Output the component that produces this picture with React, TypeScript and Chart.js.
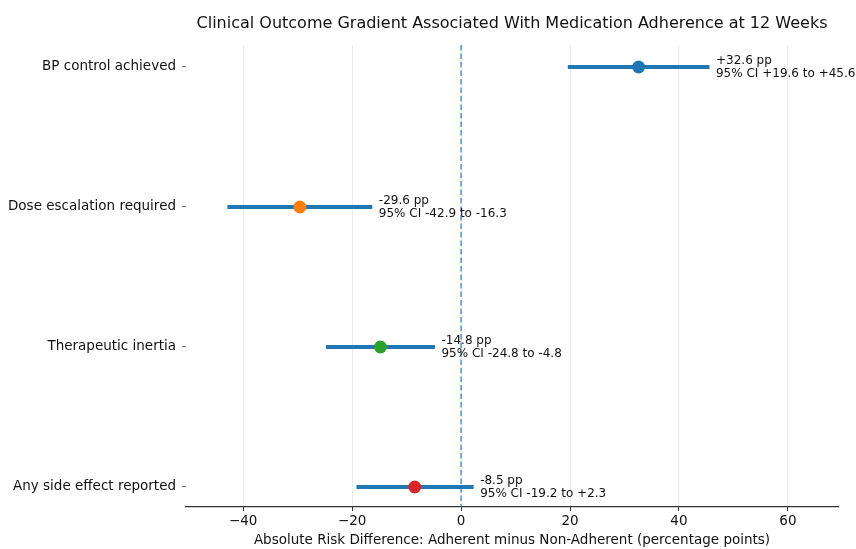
import React, { useEffect, useRef } from "react";
import { Chart, registerables } from "chart.js";

Chart.register(...registerables);

const categories = [
  "BP control achieved",
  "Dose escalation required",
  "Therapeutic inertia",
  "Any side effect reported",
];
const estimates = [32.6, -29.6, -14.8, -8.5];
const ciLow = [19.6, -42.9, -24.8, -19.2];
const ciHigh = [45.6, -16.3, -4.8, 2.3];
const pointColors = ["#1f77b4", "#ff7f0e", "#2ca02c", "#d62728"];
const xTicks = [-40, -20, 0, 20, 40, 60];
const titleText = "Clinical Outcome Gradient Associated With Medication Adherence at 12 Weeks";
const xTitle = "Absolute Risk Difference: Adherent minus Non-Adherent (percentage points)";

const FONT = "'DejaVu Sans', sans-serif";

function fmt(v: number): string {
  return (v > 0 ? "+" : "") + v.toFixed(1);
}

export default function App() {
  const ref = useRef<HTMLCanvasElement | null>(null);

  useEffect(() => {
    document.body.style.margin = "0";
    if (!ref.current) return;

    const ciDatasets = categories.map((_, i) => ({
      type: "line" as const,
      data: [
        { x: ciLow[i], y: i },
        { x: ciHigh[i], y: i },
      ],
      borderColor: "#1f77b4",
      borderWidth: 4,
      borderCapStyle: "butt" as const,
      pointRadius: 0,
      fill: false,
      order: 2,
    }));

    const pointDataset = {
      type: "scatter" as const,
      data: categories.map((_, i) => ({ x: estimates[i], y: i })),
      backgroundColor: pointColors,
      borderColor: pointColors,
      borderWidth: 0,
      pointRadius: 6.5,
      order: 1,
    };

    const overlay = {
      id: "overlay",
      beforeDatasetsDraw(chart: any) {
        const { ctx, chartArea, scales } = chart;
        const x0 = scales.x.getPixelForValue(0);
        ctx.save();
        ctx.strokeStyle = "rgba(31,119,180,0.72)";
        ctx.lineWidth = 1.6;
        ctx.setLineDash([5.5, 3]);
        ctx.beginPath();
        ctx.moveTo(x0, chartArea.top);
        ctx.lineTo(x0, chartArea.bottom);
        ctx.stroke();
        ctx.restore();
      },
      afterDatasetsDraw(chart: any) {
        const { ctx, scales } = chart;
        ctx.save();
        ctx.fillStyle = "#111";
        ctx.font = `12px ${FONT}`;
        ctx.textAlign = "left";
        ctx.textBaseline = "middle";
        categories.forEach((_, i) => {
          const x = scales.x.getPixelForValue(ciHigh[i] + 1.2);
          const y = scales.y.getPixelForValue(i);
          ctx.fillText(`${estimates[i] > 0 ? "+" : ""}${estimates[i].toFixed(1)} pp`, x, y - 6.5);
          ctx.fillText(`95% CI ${fmt(ciLow[i])} to ${fmt(ciHigh[i])}`, x, y + 6.5);
        });
        ctx.restore();
      },
      afterDraw(chart: any) {
        const { ctx, chartArea } = chart;
        ctx.save();
        ctx.fillStyle = "#111";
        ctx.font = `16px ${FONT}`;
        ctx.textAlign = "center";
        ctx.textBaseline = "middle";
        ctx.fillText(titleText, (chartArea.left + chartArea.right) / 2, 24);
        ctx.restore();
      },
    };

    const chart = new Chart(ref.current, {
      type: "scatter",
      data: { datasets: [...ciDatasets, pointDataset] as any },
      options: {
        animation: false,
        responsive: true,
        maintainAspectRatio: false,
        layout: { padding: { top: 45, right: 18, left: 0, bottom: 0 } },
        plugins: {
          legend: { display: false },
          tooltip: { enabled: false },
          title: { display: false },
        },
        scales: {
          x: {
            type: "linear",
            min: -50.5,
            max: 69.2,
            afterBuildTicks: (scale: any) => {
              scale.ticks = xTicks.map((v) => ({ value: v }));
            },
            afterFit: (scale: any) => {
              scale.height = 42;
            },
            ticks: {
              color: "#111",
              font: { family: FONT, size: 13.5 },
              padding: 2,
              callback: (v: any) => (Number(v) < 0 ? "\u2212" + Math.abs(Number(v)) : String(v)),
            },
            grid: {
              color: "#ebebeb",
              lineWidth: 1,
              tickColor: "#333",
              tickLength: 4,
              drawTicks: true,
            },
            border: { display: true, color: "#333", width: 1.2 },
            title: {
              display: true,
              text: xTitle,
              color: "#111",
              font: { family: FONT, size: 13.5 },
              padding: { top: 0, bottom: 0 },
            },
          },
          y: {
            type: "linear",
            min: -0.157,
            max: 3.143,
            reverse: true,
            afterBuildTicks: (scale: any) => {
              scale.ticks = categories.map((_, i) => ({ value: i }));
            },
            afterFit: (scale: any) => {
              scale.width = 186;
            },
            ticks: {
              color: "#111",
              font: { family: FONT, size: 13.5 },
              padding: 6,
              callback: (v: any) => categories[Number(v)] ?? "",
            },
            grid: {
              drawOnChartArea: false,
              drawTicks: true,
              tickLength: 4,
              tickColor: "#666",
            },
            border: { display: false },
          },
        },
      } as any,
      plugins: [overlay],
    });

    return () => chart.destroy();
  }, []);

  return (
    <div style={{ width: 856, height: 549, position: "relative" }}>
      <canvas ref={ref} />
    </div>
  );
}
